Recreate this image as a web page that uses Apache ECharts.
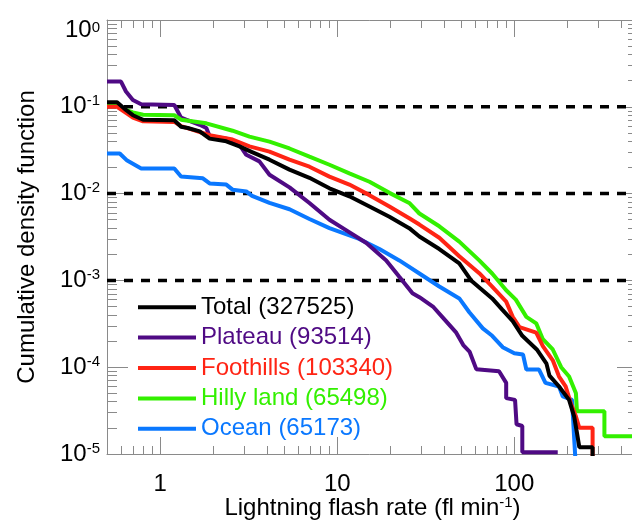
<!DOCTYPE html>
<html>
<head>
<meta charset="utf-8">
<script src="https://cdn.jsdelivr.net/npm/echarts@6/dist/echarts.min.js"></script>
<style>
  html, body { margin: 0; padding: 0; background: #fff; }
  #main { width: 632px; height: 524px; }
</style>
</head>
<body>
<div id="main"></div>
<script>
var seriesNames = ["Total (327525)", "Plateau (93514)", "Foothills (103340)", "Hilly land (65498)", "Ocean (65173)"];
var seriesColors = ["#000000", "#4f0a84", "#ff2414", "#33f000", "#0a78ff"];
var refLevels = [0.1, 0.01, 0.001];
var xRange = [0.5, 500];
var yRange = [1e-5, 1];

// [flash rate, cdf]
var total = [[0.5,0.113],[0.57,0.113],[0.64,0.092],[0.70,0.080],[0.80,0.071],[1.2,0.070],[1.31,0.059],[1.43,0.057],[1.67,0.052],[1.9,0.043],[2.36,0.040],[2.8,0.035],[3.3,0.030],[4.14,0.0246],[5.37,0.0189],[6.96,0.0152],[9.03,0.0115],[11.7,0.0093],[15.2,0.0071],[19.7,0.0054],[25.5,0.0040],[29.1,0.0032],[37.7,0.0023],[48.9,0.00157],[57,0.0010],[75,6.2e-4],[85.5,4.6e-4],[98,3.4e-4],[111,2.3e-4],[134,1.6e-4],[152,1.1e-4],[158,8e-5],[179,6e-5],[204,4.2e-5],[218,2.7e-5],[226,1.75e-5],[233,1.2e-5],[277,1.2e-5],[277,8e-6]];
var plateau = [[0.5,0.195],[0.6,0.195],[0.64,0.15],[0.70,0.12],[0.78,0.107],[1.2,0.105],[1.31,0.075],[1.4,0.071],[1.67,0.062],[1.82,0.057],[1.9,0.046],[2.36,0.043],[2.8,0.0365],[3.06,0.028],[3.63,0.0235],[4.14,0.0165],[5.37,0.0118],[6.96,0.0078],[9.03,0.0050],[11.2,0.0038],[14.6,0.0027],[18.9,0.0017],[22.4,0.0011],[26.6,7.1e-4],[29.1,6.4e-4],[34.7,5.0e-4],[39.6,3.7e-4],[47,2.5e-4],[51.5,1.8e-4],[56,1.5e-4],[61,9.5e-5],[82,9e-5],[90,6.6e-5],[90,4.4e-5],[101,4.2e-5],[103,2.2e-5],[111,2.1e-5],[111,1.05e-5],[176,1.05e-5]];
var foothills = [[0.5,0.100],[0.57,0.100],[0.64,0.085],[0.70,0.075],[0.80,0.068],[1.2,0.067],[1.31,0.060],[1.5,0.055],[1.9,0.047],[2.56,0.042],[3.19,0.035],[4.14,0.0305],[5.37,0.0246],[6.96,0.0204],[9.03,0.0157],[11.7,0.0127],[15.2,0.0096],[19.7,0.0071],[25.5,0.0052],[29.1,0.0044],[37.7,0.0031],[48.9,0.0019],[63.4,0.00121],[75,8.5e-4],[90,5.7e-4],[98,3.8e-4],[107,2.9e-4],[133,2.5e-4],[145,1.75e-4],[165,1.2e-4],[179,7.8e-5],[195,6e-5],[209,3.8e-5],[223,2.7e-5],[233,2.0e-5],[277,2.0e-5],[277,8e-6]];
var hilly = [[0.5,0.105],[0.57,0.105],[0.64,0.092],[0.70,0.086],[0.80,0.081],[1.2,0.080],[1.31,0.071],[1.82,0.0645],[2.56,0.053],[3.19,0.0454],[4.14,0.0397],[5.37,0.0331],[6.96,0.0266],[9.03,0.0215],[11.7,0.0171],[15.2,0.0137],[19.7,0.0102],[25.5,0.0078],[29.1,0.0059],[37.7,0.0042],[48.9,0.0028],[63.4,0.0017],[75,0.0012],[90,7.7e-4],[102,6.0e-4],[117,3.8e-4],[133,3.2e-4],[145,2.1e-4],[165,1.6e-4],[184,1.0e-4],[204,7.8e-5],[223,5.0e-5],[226,3.1e-5],[323,3.1e-5],[323,1.6e-5],[500,1.6e-5]];
var ocean = [[0.5,0.029],[0.59,0.029],[0.65,0.024],[0.78,0.0195],[1.2,0.0195],[1.31,0.0157],[1.74,0.0150],[1.9,0.0131],[2.36,0.0127],[2.56,0.0111],[3.06,0.0106],[3.3,0.0094],[4.14,0.0078],[5.37,0.0066],[6.96,0.0051],[9.03,0.0040],[13.3,0.0030],[17.3,0.0023],[22.4,0.0017],[29.1,0.0012],[37.7,8.5e-4],[48.9,6.2e-4],[55.7,4.3e-4],[66.4,2.8e-4],[75,2.3e-4],[86,1.7e-4],[100,1.45e-4],[112,1.4e-4],[117,9.4e-5],[138,9.4e-5],[150,6.6e-5],[179,6.0e-5],[188,4.6e-5],[212,4.2e-5],[218,1.5e-5],[222,8e-6]];

var seriesData = [total, plateau, foothills, hilly, ocean];
var drawOrder = [4, 1, 3, 2, 0];

var font = "Liberation Sans";
var axisGray = "#8a8a8a";

function logAxis(pos, range, major, minor) {
  return {
    type: "log",
    position: pos,
    logBase: 10,
    min: range[0],
    max: range[1],
    axisLine: { show: true, lineStyle: { color: axisGray, width: 1 } },
    axisTick: { show: true, inside: true, length: major, lineStyle: { color: axisGray } },
    minorTick: { show: true, splitNumber: 9, length: minor, lineStyle: { color: axisGray } },
    splitLine: { show: false },
    minorSplitLine: { show: false },
    axisLabel: { show: false }
  };
}

var xBottom = logAxis("bottom", xRange, 17, 8);
xBottom.axisLabel = {
  show: true, fontSize: 24, color: "#000", fontFamily: font, margin: 18,
  showMinLabel: false, showMaxLabel: false,
  formatter: function (v) { return String(Math.round(v)); }
};
xBottom.name = "Lightning flash rate (fl min{s|-1})";
xBottom.nameLocation = "middle";
xBottom.nameGap = 41;
xBottom.nameMoveOverlap = false;
xBottom.nameTextStyle = {
  fontSize: 24, color: "#000", fontFamily: font, lineHeight: 26,
  rich: { s: { fontSize: 15, fontFamily: font, color: "#000", verticalAlign: "top", lineHeight: 15 } }
};
var xTop = logAxis("top", xRange, 17, 8);

var yLeft = logAxis("left", yRange, 21, 10);
yLeft.axisLabel = {
  show: true, margin: 7, fontFamily: font, color: "#000",
  verticalAlignMaxLabel: "top",
  formatter: function (v) {
    var e = Math.round(Math.log(v) / Math.LN10);
    if (e === 0) return "{bt|10}{st|0}";
    return "{b|10}{s|" + e + "}";
  },
  rich: {
    b: { fontSize: 24, fontFamily: font, color: "#000", lineHeight: 26 },
    s: { fontSize: 15, fontFamily: font, color: "#000", verticalAlign: "top", lineHeight: 15 },
    bt: { fontSize: 24, fontFamily: font, color: "#000", lineHeight: 21 },
    st: { fontSize: 15, fontFamily: font, color: "#000", verticalAlign: "top", lineHeight: 6 }
  }
};
yLeft.name = "Cumulative density function";
yLeft.nameLocation = "middle";
yLeft.nameGap = 68;
yLeft.nameMoveOverlap = false;
yLeft.nameTextStyle = { fontSize: 24, color: "#000", fontFamily: font };
var yRight = logAxis("right", yRange, 21, 10);

var series = refLevels.map(function (v) {
  return {
    type: "line",
    data: [[xRange[0], v], [xRange[1], v]],
    showSymbol: false,
    symbol: "none",
    silent: true,
    lineStyle: { color: "#000", type: [9, 8], width: 3.5 },
    animation: false
  };
});
drawOrder.forEach(function (i) {
  series.push({
    name: seriesNames[i],
    type: "line",
    data: seriesData[i],
    showSymbol: false,
    symbol: "none",
    color: seriesColors[i],
    lineStyle: { color: seriesColors[i], width: 4 },
    animation: false
  });
});

var myChart = echarts.init(document.getElementById("main"));
myChart.setOption({
  animation: false,
  backgroundColor: "#fff",
  grid: { left: 107, right: -6, top: 20, bottom: 70, outerBoundsMode: "none", containLabel: false },
  legend: {
    orient: "vertical",
    left: 133,
    top: 287,
    icon: "rect",
    itemWidth: 58,
    itemHeight: 4,
    itemGap: 0,
    textStyle: { fontSize: 24, fontFamily: font, lineHeight: 30.4 },
    data: seriesNames.map(function (n, i) {
      return { name: n, textStyle: { color: seriesColors[i] } };
    })
  },
  xAxis: [xBottom, xTop],
  yAxis: [yLeft, yRight],
  series: series
});
</script>
</body>
</html>
